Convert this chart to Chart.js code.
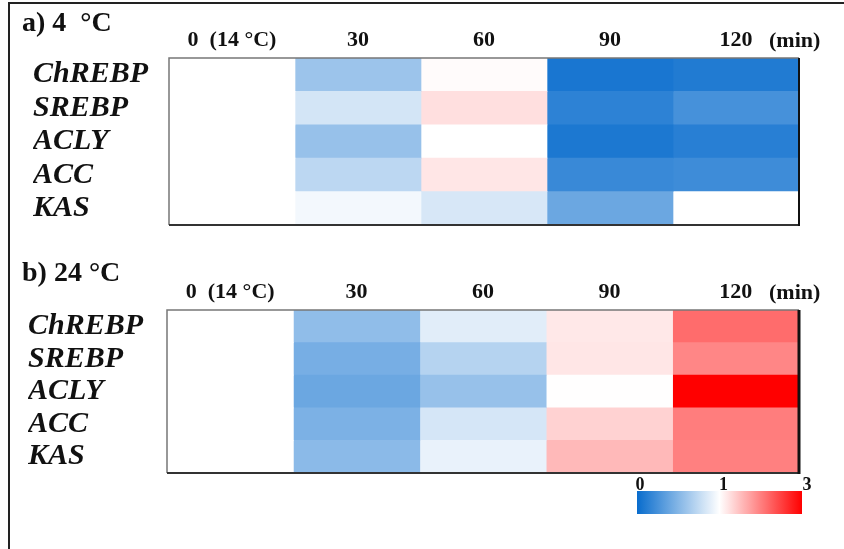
<!DOCTYPE html>
<html>
<head>
<meta charset="utf-8">
<script src="https://cdn.jsdelivr.net/npm/chart.js@4.4.1/dist/chart.umd.min.js"></script>
<style>
    body { margin: 0; background: #fff; overflow: hidden; }
    #frame {
        position: absolute; left: 8px; top: 2px; width: 900px; height: 600px;
        border-left: 2px solid #222; border-top: 2px solid #222;
    }
    canvas { position: absolute; left: 0; }
    #coldChart { top: 0; }
    #warmChart { top: 250px; }
</style>
</head>
<body>
<div id="frame"></div>
<canvas id="coldChart" width="844" height="240"></canvas>
<canvas id="warmChart" width="844" height="299"></canvas>
<script>
// genes (rows) and sampling times (columns)
const genes = ['ChREBP', 'SREBP', 'ACLY', 'ACC', 'KAS'];
const timeLabels = ['0  (14 \u00B0C)', '30', '60', '90', '120'];
const colorbarTicks = [0, 1, 3];

// a) 4 °C - relative expression, one array per time point (ChREBP, SREBP, ACLY, ACC, KAS)
const cold0 = [1, 1, 1, 1, 1];
const cold30 = [0.6, 0.82, 0.58, 0.73, 0.95];
const cold60 = [1.03, 1.25, 1.0, 1.2, 0.84];
const cold90 = [0.07, 0.15, 0.08, 0.2, 0.4];
const cold120 = [0.1, 0.25, 0.13, 0.22, 1.0];

// b) 24 °C
const warm0 = [1, 1, 1, 1, 1];
const warm30 = [0.55, 0.45, 0.4, 0.47, 0.53];
const warm60 = [0.88, 0.7, 0.58, 0.83, 0.91];
const warm90 = [1.18, 1.2, 1.01, 1.35, 1.55];
const warm120 = [2.15, 1.95, 3.0, 2.02, 2.0];

// 0 -> blue, 1 -> white, 3 -> red
function colorFor(v) {
    if (v <= 1) {
        const f = 1 - Math.max(0, v);
        return `rgb(${Math.round(255 - f * 247)}, ${Math.round(255 - f * 147)}, ${Math.round(255 - f * 50)})`;
    }
    const t = Math.min(1, (v - 1) / 2);
    const c = Math.round(255 * (1 - t));
    return `rgb(255, ${c}, ${c})`;
}

const serif = '"Liberation Serif", "Times New Roman", serif';

function makeHeatmap(canvasId, title, columns, layout) {
    const framePlugin = {
        id: 'frame_' + canvasId,
        afterDraw(chart) {
            const { ctx, chartArea: a } = chart;
            ctx.save();
            // box around the cells
            ctx.lineWidth = 1.5;
            ctx.strokeStyle = '#777';
            ctx.beginPath();
            ctx.moveTo(a.left, a.bottom);
            ctx.lineTo(a.left, a.top);
            ctx.lineTo(a.right, a.top);
            ctx.stroke();
            ctx.lineWidth = 2;
            ctx.strokeStyle = '#333';
            ctx.beginPath();
            ctx.moveTo(a.left, a.bottom);
            ctx.lineTo(a.right, a.bottom);
            ctx.stroke();
            ctx.lineWidth = layout.rightEdge;
            ctx.strokeStyle = '#111';
            ctx.beginPath();
            ctx.moveTo(a.right, a.top);
            ctx.lineTo(a.right, a.bottom + 1);
            ctx.stroke();

            // panel title and unit
            ctx.fillStyle = '#111';
            ctx.textBaseline = 'middle';
            ctx.textAlign = 'left';
            ctx.font = `bold 28px ${serif}`;
            ctx.fillText(title, 22, 24);
            ctx.font = `bold 22px ${serif}`;
            ctx.fillText('(min)', 769, a.top - 17);

            // colour bar
            if (layout.colorbar) {
                const x0 = 637, x1 = 802, y0 = 241, h = 23;
                const pos = v => v <= 1 ? v * 0.5 : 0.5 + (v - 1) / 4;
                const grad = ctx.createLinearGradient(x0, 0, x1, 0);
                for (let v = 0; v <= 3.001; v += 0.1) {
                    grad.addColorStop(Math.min(1, pos(v)), colorFor(v));
                }
                ctx.fillStyle = grad;
                ctx.fillRect(x0, y0, x1 - x0, h);
                ctx.fillStyle = '#111';
                ctx.font = `bold 18px ${serif}`;
                ctx.textAlign = 'center';
                colorbarTicks.forEach(v => {
                    ctx.fillText(String(v), x0 + 3 + pos(v) * (x1 - x0 + 2), y0 - 6);
                });
            }
            ctx.restore();
        }
    };

    return new Chart(document.getElementById(canvasId), {
        type: 'bar',
        data: {
            labels: genes,
            datasets: columns.map((vals, i) => ({
                label: timeLabels[i],
                data: vals.map(() => 1),
                backgroundColor: vals.map(colorFor),
                borderWidth: 0,
                barPercentage: 1,
                categoryPercentage: 1
            }))
        },
        options: {
            responsive: false,
            animation: false,
            indexAxis: 'y',
            layout: {
                padding: { left: layout.left, right: 45, top: 0, bottom: layout.bottom }
            },
            scales: {
                x: {
                    type: 'linear',
                    position: 'top',
                    stacked: true,
                    min: 0,
                    max: 5,
                    grid: { display: false, drawTicks: false },
                    border: { display: false },
                    afterBuildTicks: s => { s.ticks = timeLabels.map((_, i) => ({ value: i + 0.5 })); },
                    afterFit: s => { s.height = layout.top; },
                    ticks: {
                        autoSkip: false,
                        maxRotation: 0,
                        padding: 4,
                        color: '#111',
                        font: { family: serif, size: 22, weight: 'bold' },
                        callback: (v, i) => timeLabels[i]
                    }
                },
                y: {
                    stacked: true,
                    grid: { display: false, drawTicks: false },
                    border: { display: false },
                    afterFit: s => { s.width = layout.axisWidth; },
                    ticks: {
                        autoSkip: false,
                        crossAlign: 'far',
                        padding: 0,
                        color: '#111',
                        font: { family: serif, size: 30, weight: 'bold', style: 'italic', lineHeight: 1 }
                    }
                }
            },
            plugins: {
                legend: { display: false },
                tooltip: { enabled: false }
            }
        },
        plugins: [framePlugin]
    });
}

makeHeatmap('coldChart', 'a) 4  \u00B0C', [cold0, cold30, cold60, cold90, cold120],
    { left: 33, axisWidth: 136, top: 58, bottom: 15, rightEdge: 2, colorbar: false });
makeHeatmap('warmChart', 'b) 24 \u00B0C', [warm0, warm30, warm60, warm90, warm120],
    { left: 28, axisWidth: 139, top: 60, bottom: 76, rightEdge: 3, colorbar: true });
</script>
</body>
</html>
